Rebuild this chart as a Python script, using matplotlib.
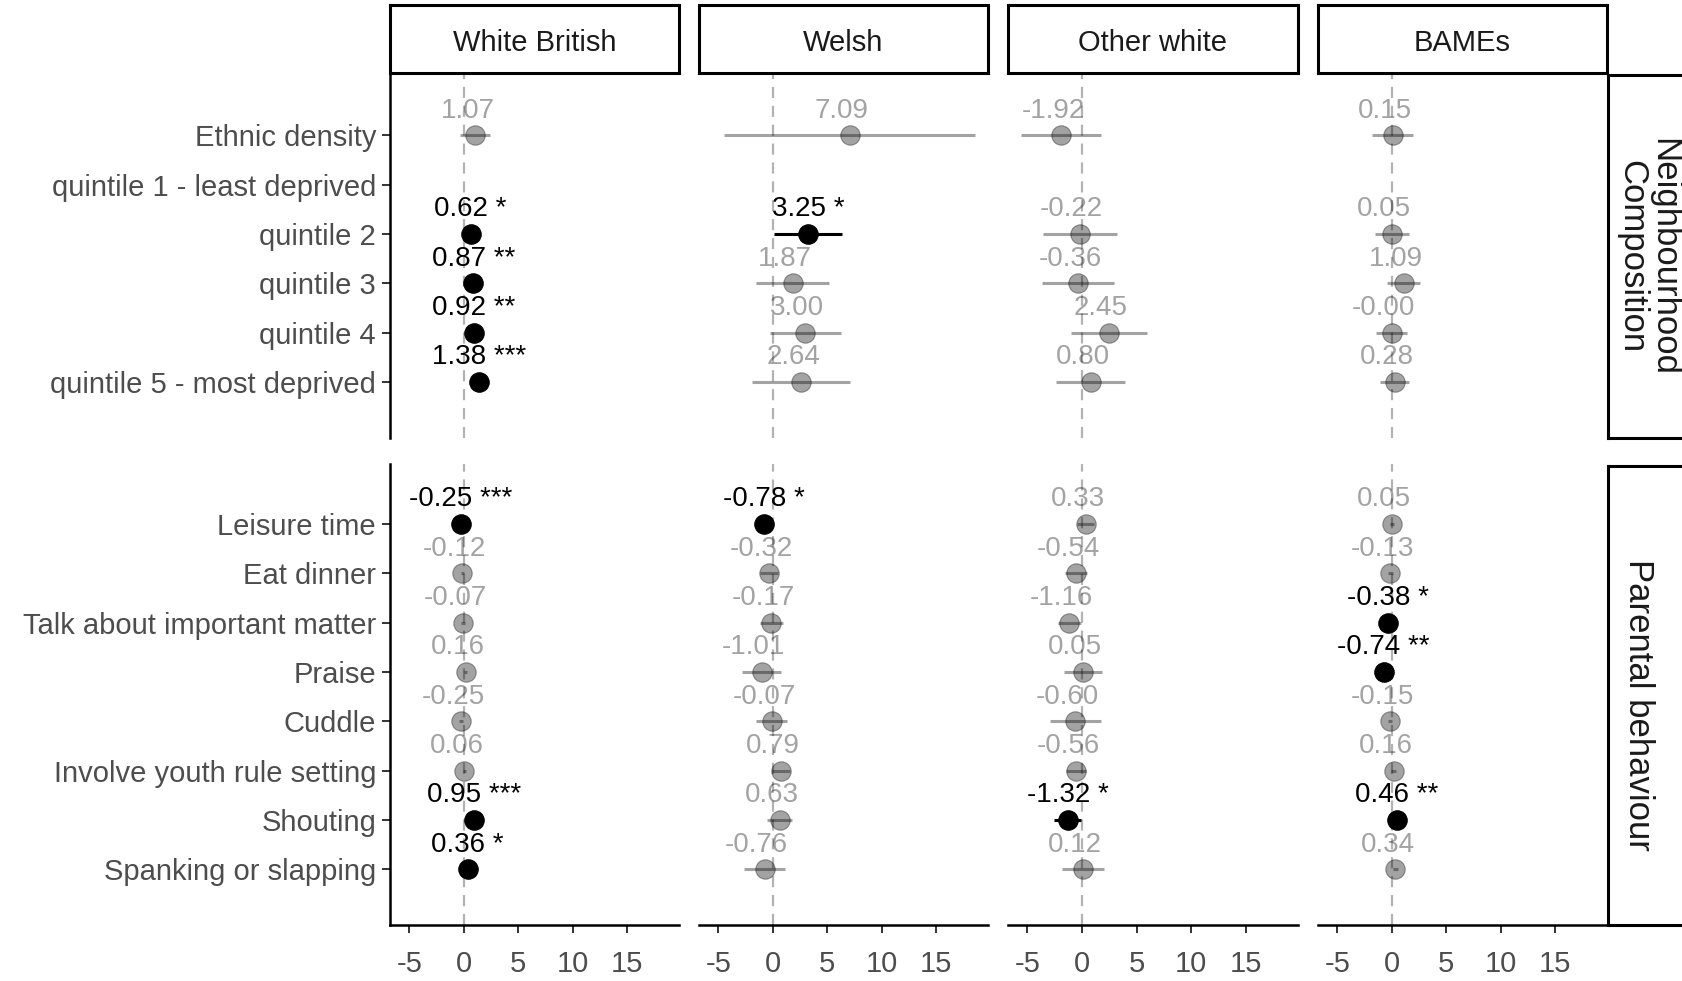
import numpy as np
import matplotlib
matplotlib.use('Agg')
import matplotlib.pyplot as plt

plt.rcParams['font.family'] = ['Liberation Sans', 'DejaVu Sans']

# Facets
groups = ['White British', 'Welsh', 'Other white', 'BAMEs']
facets = ['Neighbourhood\nComposition', 'Parental behaviour']

# Terms (top to bottom)
neigh_terms = ['Ethnic density', 'quintile 1 - least deprived', 'quintile 2',
               'quintile 3', 'quintile 4', 'quintile 5 - most deprived']
parent_terms = ['Leisure time', 'Eat dinner', 'Talk about important matter', 'Praise',
                'Cuddle', 'Involve youth rule setting', 'Shouting', 'Spanking or slapping']

# Neighbourhood composition: one row per group
neigh_est = [
    [1.07, np.nan, 0.62, 0.87, 0.92, 1.38],
    [7.09, np.nan, 3.25, 1.87, 3.00, 2.64],
    [-1.92, np.nan, -0.22, -0.36, 2.45, 0.80],
    [0.15, np.nan, 0.05, 1.09, -0.004, 0.28],
]
neigh_lo = [
    [-0.35, np.nan, 0.25, 0.45, 0.50, 0.95],
    [-4.45, np.nan, 0.15, -1.50, -0.30, -1.90],
    [-5.57, np.nan, -3.60, -3.65, -1.05, -2.35],
    [-1.80, np.nan, -1.55, -0.45, -1.45, -1.05],
]
neigh_hi = [
    [2.45, np.nan, 0.99, 1.29, 1.34, 1.81],
    [18.57, np.nan, 6.35, 5.15, 6.25, 7.10],
    [1.75, np.nan, 3.20, 2.95, 5.95, 3.95],
    [1.95, np.nan, 1.60, 2.55, 1.40, 1.55],
]
neigh_sig = [
    ['', '', '*', '**', '**', '***'],
    ['', '', '*', '', '', ''],
    ['', '', '', '', '', ''],
    ['', '', '', '', '', ''],
]

# Parental behaviour: one row per group
parent_est = [
    [-0.25, -0.12, -0.07, 0.16, -0.25, 0.06, 0.95, 0.36],
    [-0.78, -0.32, -0.17, -1.01, -0.07, 0.79, 0.63, -0.76],
    [0.33, -0.54, -1.16, 0.05, -0.60, -0.56, -1.32, 0.12],
    [0.05, -0.13, -0.38, -0.74, -0.15, 0.16, 0.46, 0.34],
]
parent_lo = [
    [-0.45, -0.30, -0.25, 0.00, -0.42, -0.10, 0.65, 0.08],
    [-1.45, -1.15, -1.20, -2.85, -1.50, -0.10, -0.55, -2.60],
    [-0.45, -1.55, -2.20, -1.65, -2.95, -1.45, -2.60, -1.85],
    [-0.15, -0.33, -0.68, -1.15, -0.35, -0.04, 0.16, 0.14],
]
parent_hi = [
    [-0.05, 0.06, 0.11, 0.32, -0.08, 0.22, 1.25, 0.64],
    [-0.11, 0.50, 0.90, 0.80, 1.35, 1.60, 1.80, 1.10],
    [1.10, 0.45, -0.10, 1.80, 1.75, 0.40, -0.05, 2.05],
    [0.25, 0.07, -0.08, -0.33, 0.05, 0.36, 0.76, 0.54],
]
parent_sig = [
    ['***', '', '', '', '', '', '***', '*'],
    ['*', '', '', '', '', '', '', ''],
    ['', '', '', '', '', '', '*', ''],
    ['', '', '*', '**', '', '', '**', ''],
]

x_ticks = [-5, 0, 5, 10, 15]

# Figure layout (pixels)
W, H = 1683, 981
fig = plt.figure(figsize=(W / 100, H / 100), dpi=100)

def px_axes(x0, y0, x1, y1):
    return fig.add_axes([x0 / W, 1 - y1 / H, (x1 - x0) / W, (y1 - y0) / H])

col_x = [(390, 679), (699, 988), (1008, 1298), (1318, 1607)]
row_y = [(73, 438), (464, 925)]
row_ylim = [(6.13, -1.26), (8.13, -1.22)]
x_lim = (-6.78, 19.78)

rows = [
    (neigh_terms, neigh_est, neigh_lo, neigh_hi, neigh_sig),
    (parent_terms, parent_est, parent_lo, parent_hi, parent_sig),
]

TXT = '#4d4d4d'
FS = 21

for r, (terms, est, lo, hi, sig) in enumerate(rows):
    for c, g in enumerate(groups):
        ax = px_axes(col_x[c][0], row_y[r][0], col_x[c][1], row_y[r][1])
        ypos = np.arange(len(terms))
        ax.axvline(0, color='#b3b3b3', lw=1.6, dashes=(5, 3.5), zorder=1)
        for i in range(len(terms)):
            e = est[c][i]
            if np.isnan(e):
                continue
            s = sig[c][i]
            a = 1.0 if s else 0.36
            ax.hlines(ypos[i], lo[c][i], hi[c][i], color='black', lw=2.2, alpha=a, zorder=2)
            ax.plot(e, ypos[i], 'o', ms=14, color='black', mec='black', mew=0.8,
                    alpha=a, zorder=3)
            lab = f'{e:.2f} {s}' if s else f'{e:.2f}'
            ax.annotate(lab, (e, ypos[i] - 0.5), xytext=(0 if s else -8, 0),
                        textcoords='offset pixels', ha='center', va='center',
                        fontsize=20, color='black', alpha=a, zorder=4)
        ax.set_xlim(x_lim)
        ax.set_ylim(row_ylim[r])
        for sp in ['top', 'right']:
            ax.spines[sp].set_visible(False)
        ax.spines['left'].set_visible(c == 0)
        ax.spines['bottom'].set_visible(r == 1)
        ax.spines['left'].set_linewidth(1.8)
        ax.spines['bottom'].set_linewidth(1.8)
        if c == 0:
            ax.set_yticks(ypos)
            ax.set_yticklabels(terms)
            ax.tick_params(axis='y', length=6, width=1.4, color='#333333',
                           labelsize=FS, labelcolor=TXT, pad=4)
        else:
            ax.set_yticks([])
        if r == 1:
            ax.set_xticks(x_ticks)
            ax.set_xticklabels([str(t) for t in x_ticks])
            ax.tick_params(axis='x', length=6, width=1.4, color='#333333',
                           labelsize=FS, labelcolor=TXT, pad=12)
        else:
            ax.set_xticks([])
        ax.patch.set_alpha(0)

# Column strips
for c, g in enumerate(groups):
    sax = px_axes(col_x[c][0], 5, col_x[c][1], 73)
    sax.set_xticks([])
    sax.set_yticks([])
    for sp in sax.spines.values():
        sp.set_linewidth(2.2)
    sax.text(0.5, 0.44, g, ha='center', va='center', fontsize=FS, color='#1a1a1a',
             transform=sax.transAxes)

# Row strips
strip_tx = [0.48, 0.37]
strip_ty = [0.5, 0.48]
for r, f in enumerate(facets):
    sax = px_axes(1608, row_y[r][0] + 2, 1690, row_y[r][1])
    sax.set_xticks([])
    sax.set_yticks([])
    for sp in sax.spines.values():
        sp.set_linewidth(2.2)
    sax.text(strip_tx[r], strip_ty[r], f, ha='center', va='center', fontsize=25,
             color='#1a1a1a', rotation=270, linespacing=0.95, transform=sax.transAxes)

fig.savefig('out.png', dpi=100)
